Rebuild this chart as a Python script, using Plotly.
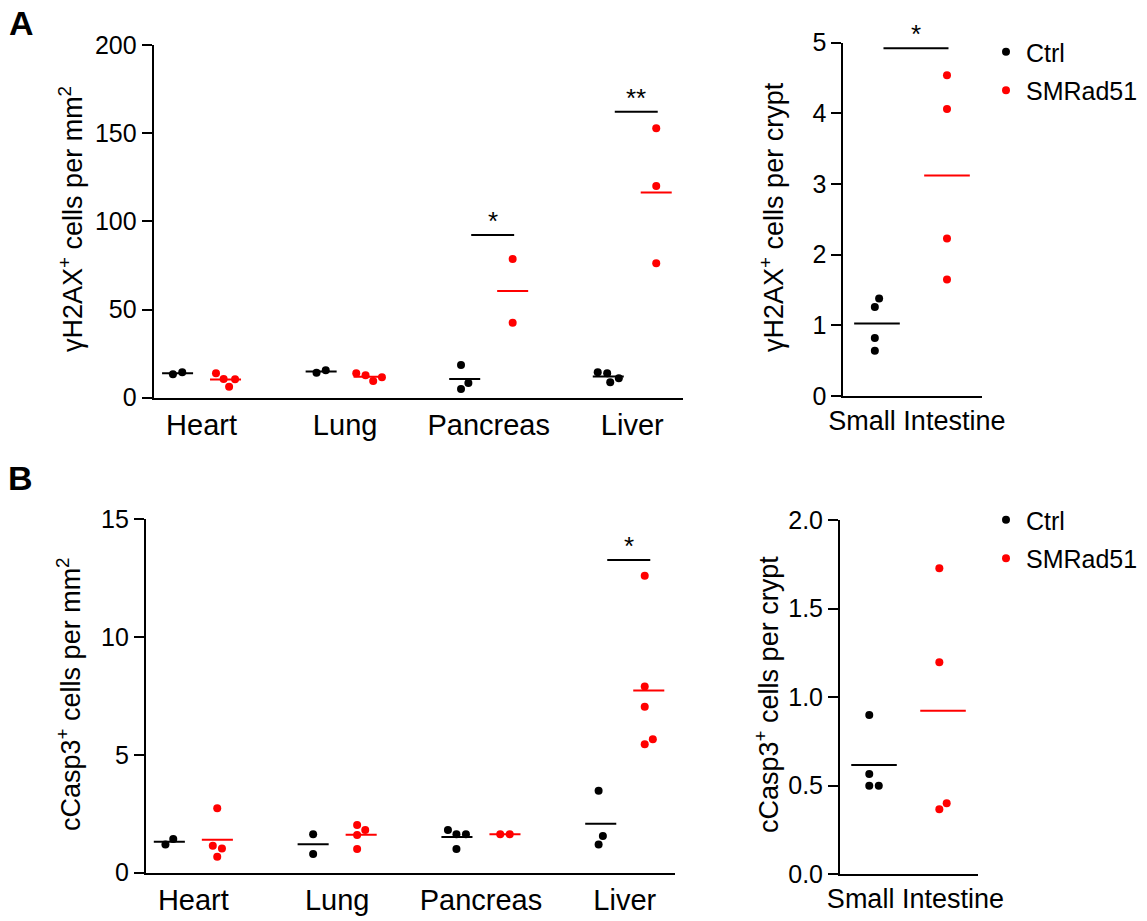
import numpy as np
import plotly.graph_objects as go

# ---------------- data ----------------
categories = ["Heart", "Lung", "Pancreas", "Liver"]
groups = ["Ctrl", "SMRad51"]

# Panel A: gammaH2AX+ cells per mm2 (one list per organ, in category order)
a_ctrl = [[13.3, 14.4], [14.2, 15.5], [18.5, 4.9, 8.3], [13.8, 8.7, 11.0, 14.4]]
a_red = [[10.4, 13.8, 6.2, 10.6], [12.7, 9.5, 11.6, 13.8], [78.6, 42.5], [152.8, 120.0, 76.2]]
# Panel A right: gammaH2AX+ cells per crypt (small intestine)
a_si_ctrl = [1.38, 1.26, 0.82, 0.64]
a_si_red = [4.54, 4.06, 2.23, 1.65]

# Panel B: cCasp3+ cells per mm2
b_ctrl = [[1.20, 1.43], [1.63, 0.79], [1.63, 1.63, 1.81, 1.00], [3.48, 1.56, 1.20]]
b_red = [[2.73, 1.14, 1.03, 0.68], [1.81, 1.60, 1.00, 2.02], [1.63, 1.63], [12.59, 7.90, 7.04, 5.66, 5.45]]
# Panel B right: cCasp3+ cells per crypt
b_si_ctrl = [0.898, 0.565, 0.499, 0.499]
b_si_red = [1.727, 1.196, 0.40, 0.366]

# significance brackets: (category index, height, label)
a_sig = [(2, 92.3, "*"), (3, 162.2, "**")]
a_si_sig = [(0, 4.92, "*")]
b_sig = [(3, 13.26, "*")]
b_si_sig = []

# ---------------- layout helpers ----------------
W, H = 1147, 921
FONT = "Liberation Sans, Arial, Helvetica, sans-serif"
BLACK = "#000000"
RED = "#ff0000"


def px_x(a, b):
    return [a / W, b / W]


def px_y(top, bottom):
    return [1 - bottom / H, 1 - top / H]


def swarm(vals, ypx, D=9.5):
    """Greedy beeswarm offsets (in px) for values, given px per data unit."""
    vals = np.asarray(vals, dtype=float)
    order = np.argsort(vals, kind="stable")
    placed = []
    xs = np.zeros(len(vals))
    for i in order:
        y = vals[i] * ypx
        cands = [0.0]
        for (px, py) in placed:
            dy = abs(y - py)
            if dy < D:
                dx = np.sqrt(D * D - dy * dy)
                cands += [px + dx, px - dx]
        cands = sorted(cands, key=lambda c: (abs(c), -c))
        chosen = cands[-1]
        for c in cands:
            ok = all((c - px) ** 2 + (y - py) ** 2 >= D * D - 1e-6 for (px, py) in placed)
            if ok:
                chosen = c
                break
        xs[i] = chosen
        placed.append((chosen, y))
    if len(xs):
        xs -= (xs.max() + xs.min()) / 2
    return xs


fig = go.Figure()

panels = [
    dict(n="", dx=px_x(153.6, 682.5), dy=px_y(45, 397.7), xr=[-0.334, 3.35], yr=[0, 200], dtick=50,
         fmt="d", ctrl=a_ctrl, red=a_red, cats=categories, sep=0.167, hw=0.108, sig=a_sig,
         legend="legend", tickpos=None, catsize=29),
    dict(n="2", dx=px_x(843.3, 982), dy=px_y(42.7, 396), xr=[-0.481, 1.5], yr=[0, 5], dtick=1,
         fmt="d", ctrl=[a_si_ctrl], red=[a_si_red], cats=["Small Intestine"], sep=0.5, hw=0.326,
         sig=a_si_sig, legend=None, tickpos=[0.57], catsize=27),
    dict(n="3", dx=px_x(145.9, 674.8), dy=px_y(519, 872.7), xr=[-0.33, 3.348], yr=[0, 15], dtick=5,
         fmt="d", ctrl=b_ctrl, red=b_red, cats=categories, sep=0.167, hw=0.108, sig=b_sig,
         legend="legend2", tickpos=None, catsize=29),
    dict(n="4", dx=px_x(840, 978), dy=px_y(520, 874), xr=[-0.493, 1.507], yr=[0, 2], dtick=0.5,
         fmt=".1f", ctrl=[b_si_ctrl], red=[b_si_red], cats=["Small Intestine"], sep=0.5, hw=0.33,
         sig=b_si_sig, legend=None, tickpos=[0.6], catsize=27),
]

for p in panels:
    n = p["n"]
    xpx = (p["dx"][1] - p["dx"][0]) * W / (p["xr"][1] - p["xr"][0])
    ypx = (p["dy"][1] - p["dy"][0]) * H / (p["yr"][1] - p["yr"][0])
    ncat = len(p["cats"])
    centers = np.arange(ncat) * (1.0 if ncat > 1 else 0.0) + (0.0 if ncat > 1 else 0.5)
    for gname, series, color, side in [("Ctrl", p["ctrl"], BLACK, -1), ("SMRad51", p["red"], RED, 1)]:
        xs, ys, lx, ly = [], [], [], []
        for ci, vals in enumerate(series):
            cx = centers[ci] + side * p["sep"]
            offs = swarm(vals, ypx) / xpx
            xs += list(cx + offs)
            ys += list(vals)
            m = float(np.mean(vals))
            lx += [cx - p["hw"], cx + p["hw"], None]
            ly += [m, m, None]
        fig.add_trace(go.Scatter(
            x=lx, y=ly, mode="lines", line=dict(color=color, width=2),
            xaxis="x" + n, yaxis="y" + n, showlegend=False, hoverinfo="skip"))
        tr = dict(x=xs, y=ys, mode="markers", name=gname, legendgroup=gname,
                  marker=dict(color=color, size=8, line=dict(width=0)),
                  xaxis="x" + n, yaxis="y" + n, showlegend=p["legend"] is not None,
                  cliponaxis=False)
        if p["legend"] is not None:
            tr["legend"] = p["legend"]
        fig.add_trace(go.Scatter(**tr))
    # significance bars
    sx, sy = [], []
    for (ci, h, lab) in p["sig"]:
        x0 = centers[ci] - p["sep"] + 6.5 / xpx
        x1 = centers[ci] + p["sep"] + 1.5 / xpx
        sx += [x0, x1, None]
        sy += [h, h, None]
        fig.add_annotation(x=(x0 + x1) / 2, y=h, xref="x" + n, yref="y" + n, text=lab,
                           showarrow=False, yanchor="bottom", yshift=-3,
                           font=dict(family=FONT, size=26, color=BLACK))
    if sx:
        fig.add_trace(go.Scatter(x=sx, y=sy, mode="lines", line=dict(color=BLACK, width=2),
                                 xaxis="x" + n, yaxis="y" + n, showlegend=False, hoverinfo="skip"))

    tickvals = list(centers) if p["tickpos"] is None else p["tickpos"]
    fig.update_layout(**{
        "xaxis" + n: dict(domain=p["dx"], range=p["xr"], anchor="y" + n, showline=True,
                          linecolor=BLACK, linewidth=2, showgrid=False, zeroline=False,
                          ticks="", tickvals=tickvals, ticktext=p["cats"], automargin=False,
                          tickfont=dict(family=FONT, size=p["catsize"], color=BLACK),
                          fixedrange=True),
        "yaxis" + n: dict(domain=p["dy"], range=p["yr"], anchor="x" + n, showline=True,
                          linecolor=BLACK, linewidth=2, showgrid=False, zeroline=False,
                          ticks="outside", ticklen=10, tickwidth=2, tickcolor=BLACK,
                          dtick=p["dtick"], tick0=0, tickformat=p["fmt"], automargin=False,
                          tickfont=dict(family=FONT, size=25, color=BLACK), fixedrange=True),
    })

# axis titles (rotated text)
titles = [
    ("γH2AX<sup>+</sup> cells per mm<sup>2</sup>", 71, 219),
    ("γH2AX<sup>+</sup> cells per crypt", 772, 217),
    ("cCasp3<sup>+</sup> cells per mm<sup>2</sup>", 69, 694),
    ("cCasp3<sup>+</sup> cells per crypt", 767, 695),
]
for txt, tx, ty in titles:
    fig.add_annotation(x=tx / W, y=1 - ty / H, xref="paper", yref="paper", text=txt,
                       textangle=-90, showarrow=False, xanchor="center", yanchor="middle",
                       font=dict(family=FONT, size=27, color=BLACK))

# panel letters
for lab, lx, ly in [("<b>A</b>", 21, 22.5), ("<b>B</b>", 20, 477.5)]:
    fig.add_annotation(x=lx / W, y=1 - ly / H, xref="paper", yref="paper", text=lab,
                       showarrow=False, xanchor="center", yanchor="middle",
                       font=dict(family=FONT, size=34, color=BLACK))

legend_style = dict(xanchor="left", yanchor="top", bgcolor="rgba(0,0,0,0)",
                    font=dict(family=FONT, size=25, color=BLACK), itemclick=False,
                    traceorder="grouped", tracegroupgap=3)
fig.update_layout(
    template="none",
    width=W, height=H, margin=dict(l=0, r=0, t=0, b=0, autoexpand=False),
    paper_bgcolor="white", plot_bgcolor="white",
    legend=dict(x=986 / W, y=1 - 29 / H, **legend_style),
    legend2=dict(x=986 / W, y=1 - 497 / H, **legend_style),
    showlegend=True,
)

fig.write_html("out.html", config={"displayModeBar": False},
               post_script="document.body.style.margin='0px';document.body.style.overflow='hidden';")
